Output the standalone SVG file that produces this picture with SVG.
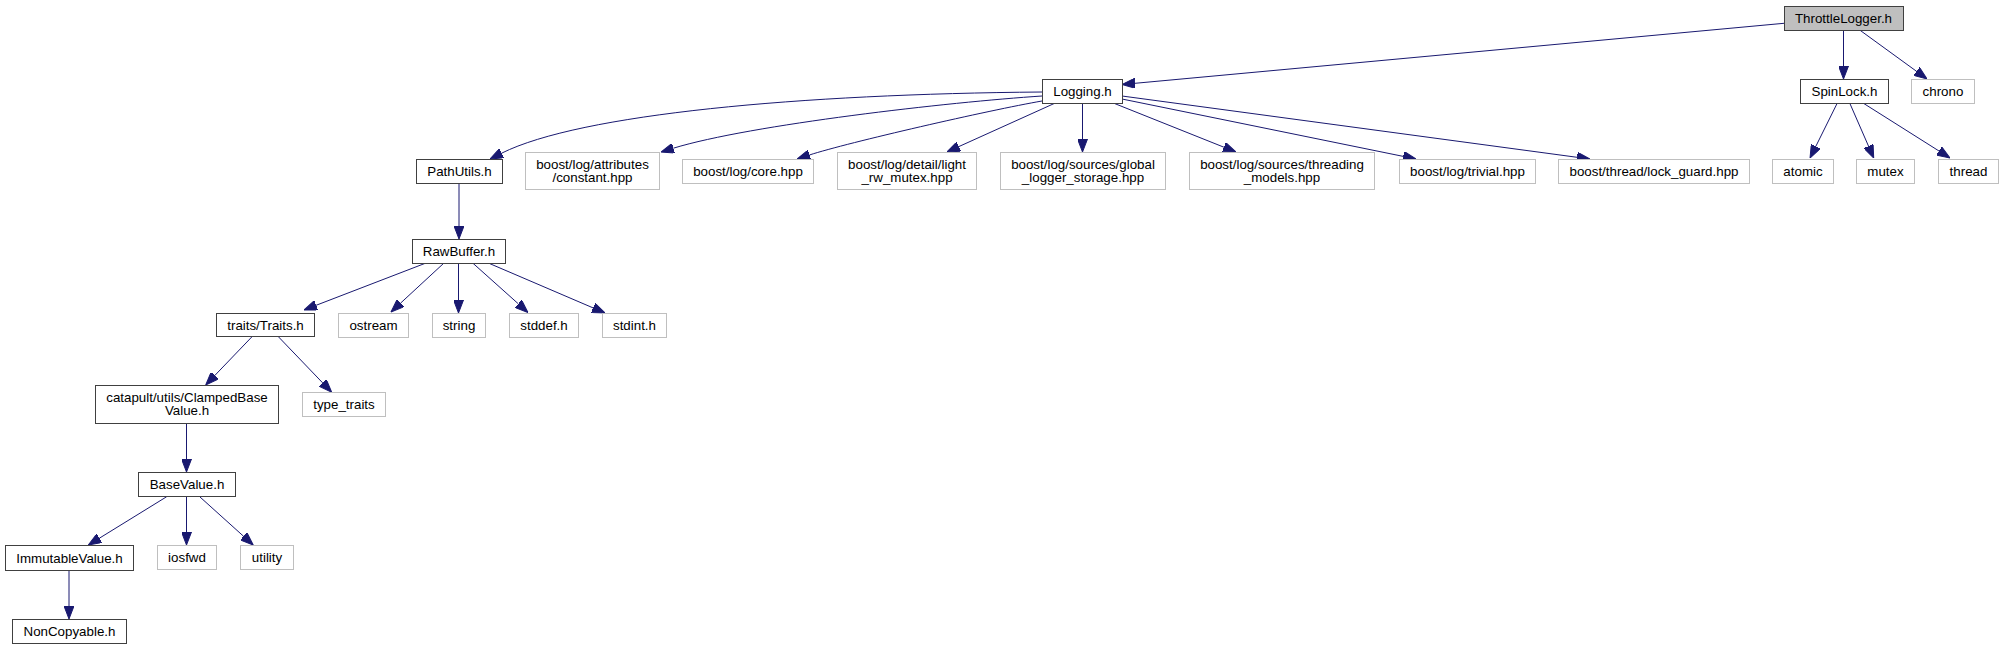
<svg xmlns="http://www.w3.org/2000/svg" width="2003" height="649" viewBox="0 0 2003 649">
<style>
.n rect{fill:#ffffff;stroke:#404040;stroke-width:1}
.x rect{fill:#ffffff;stroke:#bfbfbf;stroke-width:1}
.r rect{fill:#bfbfbf;stroke:#404040;stroke-width:1}
text{font-family:"Liberation Sans",Arial,Helvetica,sans-serif;font-size:13.33px;text-anchor:middle;fill:#000000}
#edges path{fill:none;stroke:#191970;stroke-width:1;marker-end:url(#ah)}
</style>
<defs>
<marker id="ah" markerUnits="userSpaceOnUse" viewBox="0 0 13 10" refX="0" refY="5" markerWidth="13" markerHeight="10" orient="auto">
<path d="M0,0 L13,5 L0,10 z" fill="#191970" stroke="#191970" stroke-width="1"/>
</marker>
</defs>
<rect x="0" y="0" width="2003" height="649" fill="#ffffff"/>
<g id="edges">
<path d="M1784,23.3 L1135,83.3"/>
<path d="M1843.5,30 L1843.5,66"/>
<path d="M1859.7,30 L1916.5,71.3"/>
<path d="M1837.3,103 L1815.8,146.4"/>
<path d="M1849.7,103 L1868.5,146.1"/>
<path d="M1863,103 L1939,151"/>
<path d="M1042,92 C800,94 580,114 501.6,153.2"/>
<path d="M1042,96 C950,102 750,124.7 673.4,148.2"/>
<path d="M1042,101 C990,110 847.4,142.6 809.4,155"/>
<path d="M1055.3,103 L958.8,146.6"/>
<path d="M1082.5,103 L1082.5,139"/>
<path d="M1113.3,103 L1223.9,147.2"/>
<path d="M1122,99 L1403.3,156.4"/>
<path d="M1122,96 L1577.1,157.3"/>
<path d="M459,183 L459,226"/>
<path d="M426,263 L316.1,305.3"/>
<path d="M444,263 L400.5,303.2"/>
<path d="M458.5,263 L458.5,300"/>
<path d="M472.7,263 L518.3,303.8"/>
<path d="M488.3,263 L593.1,307.9"/>
<path d="M252.7,336 L214.7,375.6"/>
<path d="M277.7,336 L322.7,382.9"/>
<path d="M186.5,423 L186.5,459"/>
<path d="M166.7,496.7 L99.4,538.2"/>
<path d="M186.5,497 L186.5,532"/>
<path d="M200,497 L243.6,536.3"/>
<path d="M69,570 L69,606"/>
</g>
<g id="ThrottleLogger" class="r"><rect x="1784.5" y="6.5" width="119" height="24"/><text x="1843.5" y="23.3">ThrottleLogger.h</text></g>
<g id="Logging" class="n"><rect x="1042.5" y="79.5" width="80" height="24"/><text x="1082.5" y="96.3">Logging.h</text></g>
<g id="SpinLock" class="n"><rect x="1800.5" y="79.5" width="88" height="24"/><text x="1844.5" y="96.3">SpinLock.h</text></g>
<g id="chrono" class="x"><rect x="1911.5" y="79.5" width="63" height="24"/><text x="1943" y="96.3">chrono</text></g>
<g id="PathUtils" class="n"><rect x="416.5" y="159.5" width="86" height="24"/><text x="459.5" y="176.3">PathUtils.h</text></g>
<g id="constant" class="x"><rect x="525.5" y="152.5" width="134" height="37"/><text x="592.5" y="168.8">boost/log/attributes</text><text x="592.5" y="181.8">/constant.hpp</text></g>
<g id="core" class="x"><rect x="682.5" y="159.5" width="131" height="24"/><text x="748" y="176.3">boost/log/core.hpp</text></g>
<g id="light_rw_mutex" class="x"><rect x="837.5" y="152.5" width="139" height="37"/><text x="907" y="168.8">boost/log/detail/light</text><text x="907" y="181.8">_rw_mutex.hpp</text></g>
<g id="global_logger_storage" class="x"><rect x="1000.5" y="152.5" width="165" height="37"/><text x="1083" y="168.8">boost/log/sources/global</text><text x="1083" y="181.8">_logger_storage.hpp</text></g>
<g id="threading_models" class="x"><rect x="1189.5" y="152.5" width="185" height="37"/><text x="1282" y="168.8">boost/log/sources/threading</text><text x="1282" y="181.8">_models.hpp</text></g>
<g id="trivial" class="x"><rect x="1399.5" y="159.5" width="136" height="24"/><text x="1467.5" y="176.3">boost/log/trivial.hpp</text></g>
<g id="lock_guard" class="x"><rect x="1558.5" y="159.5" width="191" height="24"/><text x="1654" y="176.3">boost/thread/lock_guard.hpp</text></g>
<g id="atomic" class="x"><rect x="1772.5" y="159.5" width="61" height="24"/><text x="1803" y="176.3">atomic</text></g>
<g id="mutex" class="x"><rect x="1856.5" y="159.5" width="58" height="24"/><text x="1885.5" y="176.3">mutex</text></g>
<g id="thread" class="x"><rect x="1938.5" y="159.5" width="60" height="24"/><text x="1968.5" y="176.3">thread</text></g>
<g id="RawBuffer" class="n"><rect x="412.5" y="239.5" width="93" height="24"/><text x="459" y="256.3">RawBuffer.h</text></g>
<g id="Traits" class="n"><rect x="216.5" y="313.5" width="98" height="23"/><text x="265.5" y="330">traits/Traits.h</text></g>
<g id="ostream" class="x"><rect x="338.5" y="313.5" width="70" height="24"/><text x="373.5" y="330.3">ostream</text></g>
<g id="string" class="x"><rect x="432.5" y="313.5" width="53" height="24"/><text x="459" y="330.3">string</text></g>
<g id="stddef" class="x"><rect x="509.5" y="313.5" width="69" height="24"/><text x="544" y="330.3">stddef.h</text></g>
<g id="stdint" class="x"><rect x="602.5" y="313.5" width="64" height="24"/><text x="634.5" y="330.3">stdint.h</text></g>
<g id="ClampedBaseValue" class="n"><rect x="95.5" y="385.5" width="183" height="38"/><text x="187" y="402.3">catapult/utils/ClampedBase</text><text x="187" y="415.3">Value.h</text></g>
<g id="type_traits" class="x"><rect x="302.5" y="392.5" width="83" height="24"/><text x="344" y="409.3">type_traits</text></g>
<g id="BaseValue" class="n"><rect x="138.5" y="472.5" width="97" height="24"/><text x="187" y="489.3">BaseValue.h</text></g>
<g id="ImmutableValue" class="n"><rect x="5.5" y="545.5" width="128" height="25"/><text x="69.5" y="562.8">ImmutableValue.h</text></g>
<g id="iosfwd" class="x"><rect x="157.5" y="545.5" width="59" height="24"/><text x="187" y="562.3">iosfwd</text></g>
<g id="utility" class="x"><rect x="240.5" y="545.5" width="53" height="24"/><text x="267" y="562.3">utility</text></g>
<g id="NonCopyable" class="n"><rect x="12.5" y="619.5" width="114" height="24"/><text x="69.5" y="636.3">NonCopyable.h</text></g>
</svg>
